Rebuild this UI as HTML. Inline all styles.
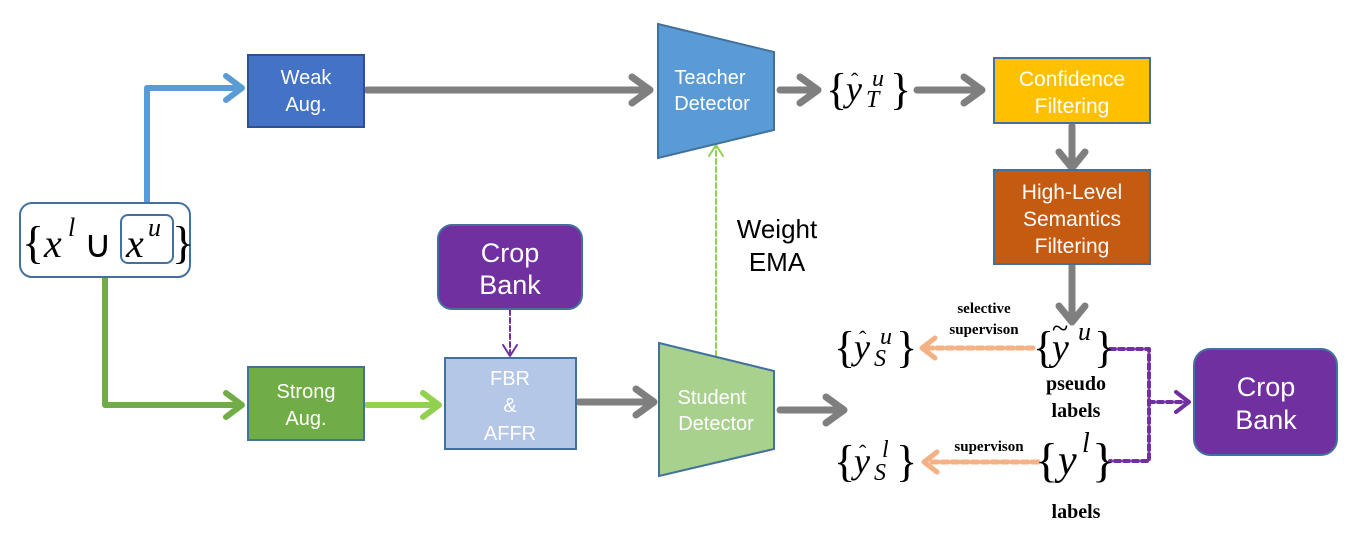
<!DOCTYPE html>
<html><head><meta charset="utf-8"><style>
html,body{margin:0;padding:0;background:#fff;}
svg{display:block;}
.s{font-family:"Liberation Sans",sans-serif;}
.m{font-family:"Liberation Serif",serif;}
</style></head><body>
<svg width="1355" height="544" viewBox="0 0 1355 544" xmlns="http://www.w3.org/2000/svg">
<g fill="none" stroke-linecap="round" stroke-linejoin="round">
<polyline points="147,215 147,88 238,88" stroke="#5B9BD5" stroke-width="6"/>
<polyline points="226,76 242,88 226,100" stroke="#5B9BD5" stroke-width="6"/>
<polyline points="105,277 105,405 238,405" stroke="#70AD47" stroke-width="6"/>
<polyline points="226,393 242,405 226,417" stroke="#70AD47" stroke-width="6"/>
<line x1="367" y1="405" x2="436" y2="405" stroke="#92D050" stroke-width="6"/>
<polyline points="423,393 439,405 423,417" stroke="#92D050" stroke-width="6"/>
<g stroke="#7F7F7F" stroke-width="7">
<line x1="367" y1="90" x2="646" y2="90"/><polyline points="632,77 650,90 632,103"/>
<line x1="780" y1="90" x2="814" y2="90"/><polyline points="800,77 818,90 800,103"/>
<line x1="917" y1="90" x2="978" y2="90"/><polyline points="964,77 982,90 964,103"/>
<line x1="1072" y1="126" x2="1072" y2="164"/><polyline points="1059,152 1072,168 1085,152"/>
<line x1="1072" y1="266" x2="1072" y2="318"/><polyline points="1059,306 1072,322 1085,306"/>
<line x1="579" y1="402" x2="650" y2="402"/><polyline points="636,389 654,402 636,415"/>
<line x1="780" y1="410" x2="840" y2="410"/><polyline points="826,397 844,410 826,423"/>
</g>
<line x1="510" y1="310" x2="510" y2="354" stroke="#7030A0" stroke-width="2" stroke-dasharray="5,3"/>
<polyline points="503,345 510,356 517,345" stroke="#7030A0" stroke-width="2"/>
<line x1="716" y1="356" x2="716" y2="146" stroke="#92D050" stroke-width="2" stroke-dasharray="5,3"/>
<polyline points="709,156 716,145 723,156" stroke="#92D050" stroke-width="2"/>
<line x1="1033" y1="348" x2="926" y2="348" stroke="#F4B183" stroke-width="5" stroke-dasharray="6,4"/>
<polyline points="935,338 922,348 935,358" stroke="#F4B183" stroke-width="5"/>
<line x1="1038" y1="462" x2="928" y2="462" stroke="#F4B183" stroke-width="5" stroke-dasharray="6,4"/>
<polyline points="937,452 924,462 937,472" stroke="#F4B183" stroke-width="5"/>
<polyline points="1110,349 1149,349 1149,461 1110,461" stroke="#7030A0" stroke-width="4" stroke-dasharray="5,4"/>
<line x1="1149" y1="402" x2="1186" y2="402" stroke="#7030A0" stroke-width="4" stroke-dasharray="5,4"/>
<polyline points="1176,392 1189,402 1176,412" stroke="#7030A0" stroke-width="4"/>
</g>
<rect x="20" y="203" width="170" height="74" rx="12" fill="#fff" stroke="#41719C" stroke-width="2"/>
<rect x="121" y="215" width="52" height="48" rx="7" fill="none" stroke="#41719C" stroke-width="2"/>
<g class="m" fill="#000">
<text x="22" y="258" font-size="46">{</text>
<text x="44" y="257" font-size="40" font-style="italic">x</text>
<text x="68" y="236" font-size="26" font-style="italic">l</text>
<text x="84" y="257" font-size="38">∪</text>
<text x="126" y="257" font-size="40" font-style="italic">x</text>
<text x="148" y="236" font-size="26" font-style="italic">u</text>
<text x="172" y="258" font-size="46">}</text>
</g>
<rect x="248" y="55" width="116" height="72" fill="#4472C4" stroke="#2F528F" stroke-width="2"/>
<text class="s" x="306" y="84" font-size="20" fill="#fff" text-anchor="middle">Weak</text>
<text class="s" x="306" y="111" font-size="20" fill="#fff" text-anchor="middle">Aug.</text>
<rect x="248" y="367" width="116" height="73" fill="#70AD47" stroke="#41719C" stroke-width="2"/>
<text class="s" x="306" y="398" font-size="20" fill="#fff" text-anchor="middle">Strong</text>
<text class="s" x="306" y="425" font-size="20" fill="#fff" text-anchor="middle">Aug.</text>
<rect x="445" y="358" width="131" height="91" fill="#B4C7E7" stroke="#41719C" stroke-width="2"/>
<text class="s" x="510" y="385" font-size="20" fill="#fff" text-anchor="middle">FBR</text>
<text class="s" x="510" y="412" font-size="20" fill="#fff" text-anchor="middle">&amp;</text>
<text class="s" x="510" y="440" font-size="20" fill="#fff" text-anchor="middle">AFFR</text>
<rect x="438" y="225" width="144" height="84" rx="14" fill="#7030A0" stroke="#41719C" stroke-width="2"/>
<text class="s" x="510" y="262" font-size="27" fill="#fff" text-anchor="middle">Crop</text>
<text class="s" x="510" y="294" font-size="27" fill="#fff" text-anchor="middle">Bank</text>
<rect x="1194" y="349" width="143" height="106" rx="16" fill="#7030A0" stroke="#41719C" stroke-width="2"/>
<text class="s" x="1266" y="396" font-size="27" fill="#fff" text-anchor="middle">Crop</text>
<text class="s" x="1266" y="429" font-size="27" fill="#fff" text-anchor="middle">Bank</text>
<rect x="994" y="58" width="156" height="65" fill="#FFC000" stroke="#41719C" stroke-width="2"/>
<text class="s" x="1072" y="86" font-size="21" fill="#fff" text-anchor="middle">Confidence</text>
<text class="s" x="1072" y="113" font-size="21" fill="#fff" text-anchor="middle">Filtering</text>
<rect x="994" y="170" width="156" height="94" fill="#C55A11" stroke="#41719C" stroke-width="2"/>
<text class="s" x="1072" y="199" font-size="21" fill="#fff" text-anchor="middle">High-Level</text>
<text class="s" x="1072" y="226" font-size="21" fill="#fff" text-anchor="middle">Semantics</text>
<text class="s" x="1072" y="253" font-size="21" fill="#fff" text-anchor="middle">Filtering</text>
<polygon points="658,24 774,52 774,130 658,158" fill="#5B9BD5" stroke="#41719C" stroke-width="2"/>
<text class="s" x="710" y="84" font-size="20" fill="#fff" text-anchor="middle">Teacher</text>
<text class="s" x="712" y="110" font-size="20" fill="#fff" text-anchor="middle">Detector</text>
<polygon points="659,343 774,371 774,449 659,476" fill="#A9D18E" stroke="#41719C" stroke-width="2"/>
<text class="s" x="712" y="404" font-size="20" fill="#fff" text-anchor="middle">Student</text>
<text class="s" x="716" y="430" font-size="20" fill="#fff" text-anchor="middle">Detector</text>
<text class="s" x="777" y="238" font-size="26" fill="#000" text-anchor="middle">Weight</text>
<text class="s" x="777" y="271" font-size="26" fill="#000" text-anchor="middle">EMA</text>
<g class="m" fill="#000">
<text x="826" y="104" font-size="44">{</text>
<text x="846" y="101" font-size="36" font-style="italic">y</text>
<text x="851" y="88" font-size="22">ˆ</text>
<text x="872" y="86" font-size="24" font-style="italic">u</text>
<text x="866" y="107" font-size="24" font-style="italic">T</text>
<text x="890" y="104" font-size="44">}</text>

<text x="834" y="362" font-size="44">{</text>
<text x="854" y="359" font-size="36" font-style="italic">y</text>
<text x="859" y="346" font-size="22">ˆ</text>
<text x="880" y="344" font-size="24" font-style="italic">u</text>
<text x="874" y="366" font-size="24" font-style="italic">S</text>
<text x="896" y="362" font-size="44">}</text>

<text x="834" y="476" font-size="44">{</text>
<text x="854" y="473" font-size="36" font-style="italic">y</text>
<text x="859" y="460" font-size="22">ˆ</text>
<text x="882" y="457" font-size="24" font-style="italic">l</text>
<text x="874" y="480" font-size="24" font-style="italic">S</text>
<text x="896" y="476" font-size="44">}</text>

<text x="1033" y="362" font-size="44">{</text>
<text x="1052" y="360" font-size="38" font-style="italic">y</text>
<text x="1052" y="338" font-size="30">~</text>
<text x="1078" y="340" font-size="26" font-style="italic">u</text>
<text x="1094" y="362" font-size="44">}</text>

<text x="1035" y="476" font-size="48">{</text>
<text x="1058" y="474" font-size="42" font-style="italic">y</text>
<text x="1082" y="452" font-size="28" font-style="italic">l</text>
<text x="1092" y="476" font-size="48">}</text>

<text x="984" y="313" font-size="15" font-weight="bold" text-anchor="middle">selective</text>
<text x="984" y="334" font-size="15" font-weight="bold" text-anchor="middle">supervison</text>
<text x="989" y="451" font-size="15" font-weight="bold" text-anchor="middle">supervison</text>
<text x="1076" y="390" font-size="20" font-weight="bold" text-anchor="middle">pseudo</text>
<text x="1076" y="417" font-size="20" font-weight="bold" text-anchor="middle">labels</text>
<text x="1076" y="518" font-size="20" font-weight="bold" text-anchor="middle">labels</text>
</g>
</svg>
</body></html>
